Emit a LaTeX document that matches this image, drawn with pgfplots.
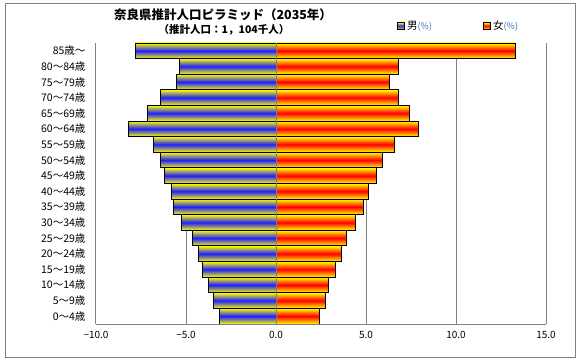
\documentclass[border=0pt]{standalone}
\usepackage{fontspec}
\setmainfont{Noto Sans CJK JP}
\usepackage{pgfplots}
\pgfplotsset{compat=1.18}
\definecolor{gridgray}{RGB}{128,128,128}
\definecolor{pctblue}{RGB}{60,110,190}
\definecolor{mblue}{RGB}{30,30,255}
\pgfplotsset{
  mbar/.style={xbar, bar width=1, bar shift=0pt, draw=black, line width=0.9bp,
    top color=yellow, bottom color=yellow, middle color=mblue, forget plot},
  fbar/.style={xbar, bar width=1, bar shift=0pt, draw=black, line width=0.9bp,
    top color=yellow, bottom color=yellow, middle color=red, forget plot},
}
\begin{document}
\begin{tikzpicture}
\path[use as bounding box] (-96bp,-36bp) rectangle (484bp,324bp);
\draw[gridgray, line width=1bp] (-90bp,-33bp) rectangle (479bp,320bp);
\begin{axis}[
  at={(0,0)}, anchor=south west,
  scale only axis, width=450bp, height=281bp,
  xmin=-10, xmax=15, ymin=-0.5, ymax=17.5,
  axis line style={draw=none},
  xtick={-10,-5,0,5,10,15},
  xticklabels={−10.0,−5.0,0.0,5.0,10.0,15.0},
  ytick={0,...,17},
  yticklabels={0～4歳,5～9歳,10～14歳,15～19歳,20～24歳,25～29歳,30～34歳,35～39歳,40～44歳,45～49歳,50～54歳,55～59歳,60～64歳,65～69歳,70～74歳,75～79歳,80～84歳,85歳～},
  major tick length=0pt,
  xmajorgrids, ymajorgrids=false,
  grid style={gridgray, line width=1bp},
  xticklabel style={font=\fontsize{10bp}{11bp}\selectfont, yshift=-4bp},
  yticklabel style={font=\fontsize{10.5bp}{12bp}\selectfont, xshift=-7bp},
  clip=false,
]
% male (%)
\addplot[mbar] coordinates {(-3.16,0)};
\addplot[mbar] coordinates {(-3.49,1)};
\addplot[mbar] coordinates {(-3.77,2)};
\addplot[mbar] coordinates {(-4.10,3)};
\addplot[mbar] coordinates {(-4.32,4)};
\addplot[mbar] coordinates {(-4.66,5)};
\addplot[mbar] coordinates {(-5.27,6)};
\addplot[mbar] coordinates {(-5.71,7)};
\addplot[mbar] coordinates {(-5.82,8)};
\addplot[mbar] coordinates {(-6.21,9)};
\addplot[mbar] coordinates {(-6.43,10)};
\addplot[mbar] coordinates {(-6.82,11)};
\addplot[mbar] coordinates {(-8.18,12)};
\addplot[mbar] coordinates {(-7.16,13)};
\addplot[mbar] coordinates {(-6.43,14)};
\addplot[mbar] coordinates {(-5.54,15)};
\addplot[mbar] coordinates {(-5.38,16)};
\addplot[mbar] coordinates {(-7.82,17)};
% female (%)
\addplot[fbar] coordinates {(2.44,0)};
\addplot[fbar] coordinates {(2.72,1)};
\addplot[fbar] coordinates {(2.94,2)};
\addplot[fbar] coordinates {(3.28,3)};
\addplot[fbar] coordinates {(3.61,4)};
\addplot[fbar] coordinates {(3.89,5)};
\addplot[fbar] coordinates {(4.39,6)};
\addplot[fbar] coordinates {(4.86,7)};
\addplot[fbar] coordinates {(5.11,8)};
\addplot[fbar] coordinates {(5.56,9)};
\addplot[fbar] coordinates {(5.94,10)};
\addplot[fbar] coordinates {(6.56,11)};
\addplot[fbar] coordinates {(7.94,12)};
\addplot[fbar] coordinates {(7.39,13)};
\addplot[fbar] coordinates {(6.78,14)};
\addplot[fbar] coordinates {(6.28,15)};
\addplot[fbar] coordinates {(6.78,16)};
\addplot[fbar] coordinates {(13.28,17)};
\draw[gridgray, line width=1bp] (axis cs:0,-0.5) -- (axis cs:0,17.5);
\draw[gridgray, line width=1bp] (axis cs:-10,-0.5) -- (axis cs:15,-0.5);
\end{axis}
\node[font=\bfseries\fontsize{12.5bp}{14bp}\selectfont] at (127bp,309bp) {奈良県推計人口ピラミッド（2035年）};
\node[font=\bfseries\fontsize{10.5bp}{12bp}\selectfont] at (128bp,294bp) {（推計人口：1，104千人）};
\shade[top color=yellow, bottom color=yellow, middle color=mblue, draw=black, line width=0.8bp] (301bp,294.5bp) rectangle (308bp,301.5bp);
\node[anchor=west, inner sep=0pt, font=\fontsize{10.5bp}{12bp}\selectfont] at (311bp,298bp) {男\textcolor{pctblue}{\fontsize{9bp}{10bp}\selectfont(\%)}};
\shade[top color=yellow, bottom color=yellow, middle color=red, draw=black, line width=0.8bp] (387bp,294.5bp) rectangle (394bp,301.5bp);
\node[anchor=west, inner sep=0pt, font=\fontsize{10.5bp}{12bp}\selectfont] at (397bp,298bp) {女\textcolor{pctblue}{\fontsize{9bp}{10bp}\selectfont(\%)}};
\end{tikzpicture}
\end{document}
